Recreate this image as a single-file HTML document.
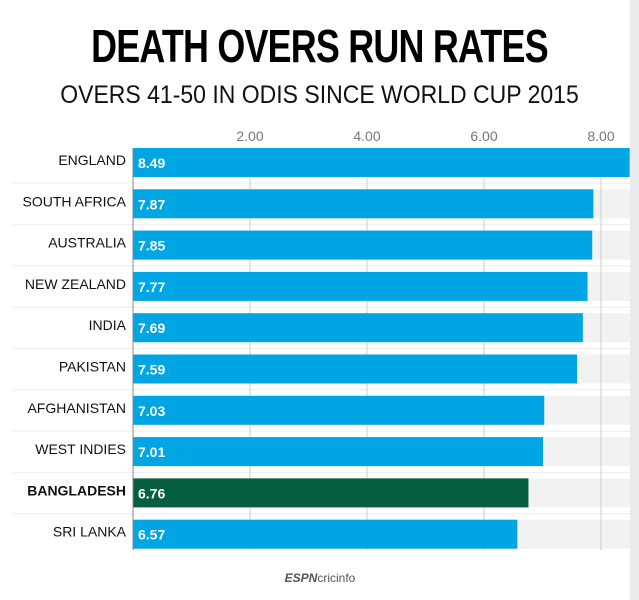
<!DOCTYPE html>
<html><head><style>
body{margin:0;width:639px;height:600px;background:#fff;overflow:hidden;position:relative;font-family:"Liberation Sans",sans-serif}
.t{position:absolute;left:0;width:639px;text-align:center}
</style></head><body>
<div style="position:absolute;left:630px;top:0;width:9px;height:600px;background:#ebebed"></div>
<div class="t" style="top:18px;font-size:46px;font-weight:bold;letter-spacing:-1px;transform:scaleX(0.78);line-height:56px;color:#000">DEATH OVERS RUN RATES</div>
<div class="t" style="top:80px;font-size:25px;line-height:30px;color:#111;transform:scaleX(0.92)">OVERS 41-50 IN ODIS SINCE WORLD CUP 2015</div>
<svg width="639" height="600" style="position:absolute;left:0;top:0" font-family="Liberation Sans, sans-serif">
<g font-size="14" fill="#777" text-anchor="middle">
<text x="250" y="141">2.00</text><text x="367" y="141">4.00</text><text x="484" y="141">6.00</text><text x="601" y="141">8.00</text>
</g>
<g id="rows"></g>
</svg>
<script>
var d=[["ENGLAND",8.49],["SOUTH AFRICA",7.87],["AUSTRALIA",7.85],["NEW ZEALAND",7.77],["INDIA",7.69],["PAKISTAN",7.59],["AFGHANISTAN",7.03],["WEST INDIES",7.01],["BANGLADESH",6.76],["SRI LANKA",6.57]];
var s="";
d.forEach(function(r,i){var y=148+i*41.3;
s+='<rect x="133" y="'+y+'" width="497" height="29" fill="#f2f2f2"/>';
if(i>0)s+='<line x1="13" x2="630" y1="'+(y-6)+'" y2="'+(y-6)+'" stroke="#eee"/>';
});
[250,367,484,601].forEach(function(x){s+='<line x1="'+x+'" x2="'+x+'" y1="176" y2="550" stroke="#ccc"/>';});
d.forEach(function(r,i){var y=148+i*41.3;var w=r[1]*58.5;var bd=r[0]=="BANGLADESH";
s+='<rect x="133" y="'+y+'" width="'+Math.min(w,497)+'" height="29" fill="'+(bd?'#045e3f':'#00a5e3')+'"/>';
s+='<text x="138" y="'+(y+20)+'" font-size="14" font-weight="bold" fill="#fff">'+r[1].toFixed(2)+'</text>';
s+='<text x="126" y="'+(y+17)+'" font-size="14" text-anchor="end" fill="#111"'+(bd?' font-weight="bold"':'')+'>'+r[0]+'</text>';
});
s+='<line x1="133" x2="133" y1="148" y2="550" stroke="#888"/>';
s+='<text x="320" y="582" font-size="12" text-anchor="middle" fill="#555" font-weight="bold" font-style="italic">ESPN<tspan font-weight="normal" font-style="normal">cricinfo</tspan></text>';
document.getElementById("rows").innerHTML=s;
</script>
</body></html>
